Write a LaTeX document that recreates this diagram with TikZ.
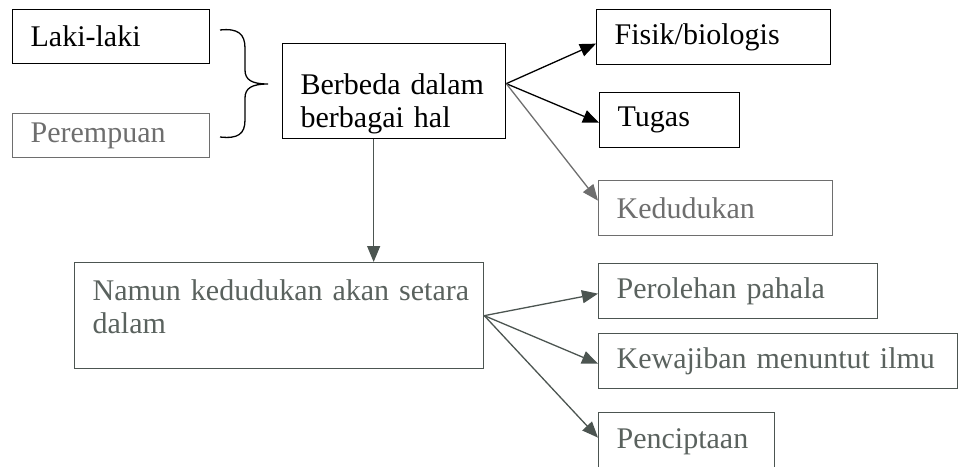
\documentclass[tikz,border=0pt]{standalone}
\usepackage{fontspec}
\setmainfont{Liberation Serif}
\usetikzlibrary{arrows.meta,calc}
\definecolor{lowgray}{HTML}{4C5551}
\definecolor{lowtext}{HTML}{5A625E}
\definecolor{midgray}{HTML}{6E6E6E}
\tikzset{
  box/.style={draw, line width=1.3pt, anchor=north west, inner xsep=18pt, inner ysep=0pt,
    align=left, font=\fontsize{30}{33}\selectfont},
  arr/.style={line width=1.3pt, -{Triangle[length=16pt,width=13pt]}},
  lower/.style={draw=lowgray, text=lowtext},
}
\begin{document}
\begin{tikzpicture}[x=1pt,y=-1pt]
\useasboundingbox (0,0) rectangle (958,466);
\clip (0,0) rectangle (958,466);
% top part
\node[box, text width=161pt, minimum height=54pt] (laki) at (12,9) {Laki-laki};
\node[box, text width=161pt, minimum height=44pt, draw=midgray, text=midgray] (perem) at (12,113) {Perempuan};
\node[box, text width=187pt, minimum height=95pt] (berbeda) at (282,43) {\rule{0pt}{47pt}\mbox{Berbeda dalam}\\\mbox{berbagai hal}};
\node[box, text width=198pt, minimum height=55pt] (fisik) at (596,9) {Fisik/biologis};
\node[box, text width=104pt, minimum height=55pt] (tugas) at (599,92) {Tugas};
\node[box, text width=198pt, minimum height=55pt, draw=midgray, text=midgray] (kedud) at (598,180) {Kedudukan};
% brace
\draw[line width=1.3pt] (220,30) .. controls (238,28) and (245,34) .. (245,48) -- (245,70)
  .. controls (245,80) and (252,84) .. (268,84)
  .. controls (252,84) and (245,88) .. (245,98) -- (245,120)
  .. controls (245,134) and (238,139) .. (220,137);
% arrows from berbeda
\draw[arr] ([yshift=7.5pt]berbeda.east) -- ([yshift=-6.5pt]fisik.west);
\draw[arr] ([yshift=7.5pt]berbeda.east) -- ([yshift=-2.5pt]tugas.west);
\draw[arr, midgray] ([yshift=7.5pt]berbeda.east) -- ([yshift=7.5pt]kedud.west);
% lower part
\node[box, lower, text width=373pt, minimum height=106pt] (namun) at (74,262) {\mbox{Namun kedudukan akan setara}\\\mbox{dalam}\rule[-18pt]{0pt}{18pt}};
\draw[arr, lowgray] ([xshift=-20.5pt]berbeda.south) -- ([xshift=-20.5pt]berbeda.south |- namun.north);
\node[box, lower, text width=243pt, minimum height=55pt] (perol) at (598,263) {Perolehan pahala};
\node[box, lower, text width=323pt, minimum height=55pt] (kewaj) at (598,333) {Kewajiban menuntut ilmu};
\node[box, lower, text width=140pt, minimum height=58pt] (pencip) at (598,412) {Penciptaan};
\draw[arr, lowgray] (namun.east) -- ([yshift=-2.5pt]perol.west);
\draw[arr, lowgray] (namun.east) -- ([yshift=-2.5pt]kewaj.west);
\draw[arr, lowgray] (namun.east) -- ([yshift=4pt]pencip.west);
\end{tikzpicture}
\end{document}
